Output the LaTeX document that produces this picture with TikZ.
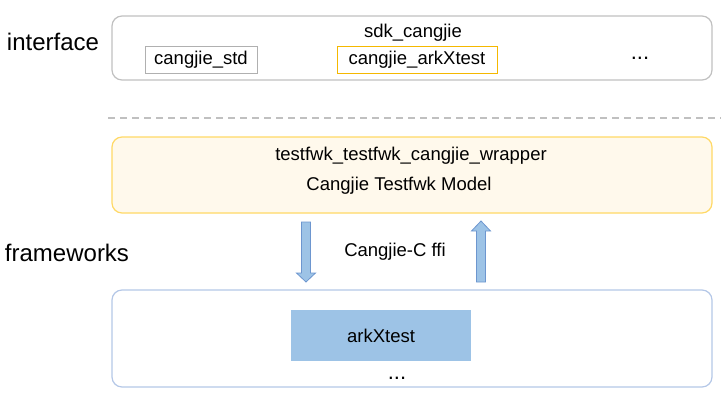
\documentclass[tikz,border=0pt]{standalone}
\usepackage{fontspec}
\setmainfont{Liberation Sans}
\definecolor{boxgray}{HTML}{B0B0B0}
\definecolor{arkgold}{HTML}{F5B800}
\definecolor{wrapline}{HTML}{FFD966}
\definecolor{wrapfill}{HTML}{FFF9EC}
\definecolor{frameline}{HTML}{B4C7E7}
\definecolor{arkblue}{HTML}{9DC3E6}
\definecolor{arrowline}{HTML}{6D96CF}
\tikzset{
  layer/.style={draw, line width=1.2pt, rounded corners=10pt, minimum width=600pt},
  module/.style={draw, line width=1pt, minimum height=27pt, inner sep=0pt},
  txt/.style={font=\fontsize{18.5}{20}\selectfont, inner sep=0pt},
  side/.style={font=\fontsize{24}{26}\selectfont, inner sep=0pt},
  blockarrow/.style={fill=arkblue, draw=arrowline, line width=0.8pt}
}
\begin{document}
\begin{tikzpicture}[x=1pt,y=-1pt]
  \useasboundingbox (0,0) rectangle (721,400);
  % interface
  \node[layer, draw=boxgray!80, minimum height=64pt](iface) at (412,48){};
  \node[side](ifacelabel) at (53,42){interface};
  \node[txt](sdk) at (413,33){sdk\_cangjie};
  \node[module, draw=boxgray, minimum width=112pt, txt](std) at (201,60){cangjie\_std};
  \node[module, draw=arkgold, minimum width=160pt, txt](ark) at (417,60){cangjie\_arkXtest};
  \node[txt, font=\fontsize{22}{24}\selectfont](moreup) at (640,58){...};
  \coordinate(cut1) at (108,118);
  \coordinate(cut2) at (721,118);
  \draw[boxgray!80, dash pattern=on 7pt off 5pt, line width=1.2pt](cut1)--(cut2);
  % frameworks
  \node[layer, draw=wrapline, fill=wrapfill, minimum height=76pt](wrap) at (412,175){};
  \node[txt](wrapname) at (411,156){testfwk\_testfwk\_cangjie\_wrapper};
  \node[txt](model) at (399,186){Cangjie Testfwk Model};
  \node[side](fwlabel) at (67,253){frameworks};
  \node[txt](ffi) at (395,252){Cangjie-C ffi};
  \coordinate(down) at (306,222);
  \coordinate(up) at (481,221);
  \draw[blockarrow](down) ++(-4.5,0) -- ++(9,0) -- ++(0,51) -- ++(5,0)
    -- ++(-9.5,9) -- ++(-9.5,-9) -- ++(5,0) -- cycle;
  \draw[blockarrow](up) ++(-9.5,10) -- ++(9.5,-10) -- ++(9.5,10) -- ++(-5,0)
    -- ++(0,51) -- ++(-9,0) -- ++(0,-51) -- cycle;
  \node[layer, draw=frameline, minimum height=97pt](frame) at (412,338.5){};
  \node[fill=arkblue, minimum width=180pt, minimum height=51pt, txt](arkx) at (381,335.5){arkXtest};
  \node[txt, font=\fontsize{22}{24}\selectfont](moredown) at (397,378){...};
\end{tikzpicture}
\end{document}
